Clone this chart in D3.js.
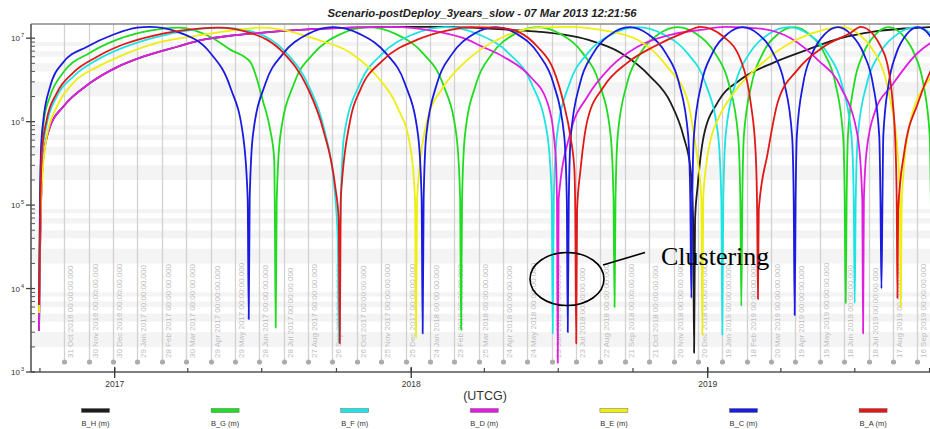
<!DOCTYPE html>
<html><head><meta charset="utf-8">
<script src="https://cdn.jsdelivr.net/npm/d3@7"></script>
<style>
body{margin:0;background:#fff;}
svg{display:block;font-family:"Liberation Sans",Arial,sans-serif;}
</style></head><body>
<svg id="chart" width="930" height="429"></svg>
<script>
// ---------------- data ----------------
const title = "Scenario-postDeploy_3years_slow - 07 Mar 2013 12:21:56";
const axisTitle = "(UTCG)";
const baseDate = "2016-09-20T00:00:00Z";          // day 0 of the series below
const xDomain = ["2016-09-20T00:00:00Z", "2019-10-01T14:00:00Z"];
const yDomain = [1e3, 1.48e7];
const yExponents = [3, 4, 5, 6, 7];
const yearTicks = ["2017-01-01", "2018-01-01", "2019-01-01"];
const yearLabels = ["2017", "2018", "2019"];
const gridStart = "2016-10-31T00:00:00Z";
const gridStepDays = 30;
const gridCount = 36;
const seriesNames = ["B_H (m)", "B_G (m)", "B_F (m)", "B_D (m)", "B_E (m)", "B_C (m)", "B_A (m)"];
const seriesColors = ["#1c1c1c", "#1fdc1f", "#1ee3e3", "#e01ee0", "#eeee10", "#1a1ae0", "#e01818"];

// [day since baseDate, range in metres]
const B_D = [
[9.9,3.1e3],[11.1,2.7e4],[14.8,3.5e5],[23.4,8.7e5],[39.4,1.5e6],[72.7,2.9e6],[106.0,4.5e6],[138.0,6.0e6],[179.9,7.9e6],[211.9,9.6e6],[245.2,1.07e7],[282.1,1.16e7],[331.4,1.26e7],[393.0,1.34e7],[442.3,1.37e7],
[500.2,1.2e7],[537.2,9.6e6],[553.2,8.1e6],[581.5,6.0e6],[614.8,3.45e6],[635.7,1.7e6],[645.6,4.2e5],[647.4,1.2e5],[648.4,1.28e3],[649.5,1.2e5],
[664.0,7.4e5],[685.0,2.0e6],[713.3,4.5e6],[746.6,7.9e6],[787.2,1.1e7],[824.2,1.26e7],[855.0,1.37e7],
[898.1,1.3e7],[935.1,1.0e7],[968.4,5.5e6],[996.7,2.6e6],[1017.6,6.6e5],[1023.2,1.2e5],[1024.2,2.9e3],[1025.2,1.2e5],
[1028.7,4.6e5],[1039.8,1.4e6],[1058.3,2.6e6],[1091.6,6.7e6],[1107.6,8.8e6],[1126.0,1.1e7]
];
const B_H = [
[9.9,3.1e3],[11.1,2.7e4],[14.8,3.5e5],[23.4,8.7e5],[39.4,1.5e6],[72.7,2.9e6],[106.0,4.5e6],[138.0,6.0e6],[179.9,7.9e6],[211.9,9.6e6],[245.2,1.07e7],[282.1,1.16e7],[331.4,1.26e7],[393.0,1.34e7],[442.3,1.37e7],
[503.9,1.37e7],[540.8,1.34e7],[590.1,1.26e7],[623.4,1.2e7],[685.0,9.6e6],[725.6,6.7e6],[762.6,3.45e6],[787.2,1.7e6],[803.3,6.6e5],[811.9,2.65e5],[815.0,6.7e4],[816.2,1.7e3],[817.4,6.7e4],
[820.5,1.66e5],[827.9,6.6e5],[845.2,1.7e6],[873.5,3.2e6],[914.1,5.1e6],[956.0,7.3e6],[996.7,1.0e7],[1037.3,1.2e7],[1095.2,1.34e7],[1113.7,1.37e7]
];
const B_G = [
[9.9,6.4e3],[11.1,1.0e5],[12.3,3.5e5],[16.0,1.05e6],[23.4,2.0e6],[39.4,3.85e6],[72.7,6.7e6],[106.0,9.6e6],[146.6,1.23e7],[181.1,1.34e7],
[220.5,1.04e7],[245.2,7.3e6],[269.8,5.2e6],[286.0,1.7e6],[294.4,8.0e5],[299.4,3.5e5],[300.0,1.2e5],[301.2,3.4e3],[302.5,1.2e5],
[306.9,6.8e5],[324.0,2.9e6],[346.8,6.4e6],[381.1,1.12e7],[415.2,1.36e7],
[449.4,1.12e7],[483.7,6.4e6],[506.6,2.9e6],[523.7,6.8e5],[528.2,1.2e5],[529.4,3.2e3],[530.6,1.2e5],
[534.1,6.8e5],[548.2,2.9e6],[567.0,6.4e6],[595.2,1.12e7],[623.4,1.36e7],
[651.9,1.12e7],[680.3,6.4e6],[699.3,2.9e6],[713.5,6.8e5],[717.0,1.2e5],[718.3,6.0e3],[719.5,1.2e5],
[722.2,6.8e5],[733.8,2.9e6],[749.3,6.4e6],[772.6,1.12e7],[795.9,1.36e7],
[819.4,1.12e7],[842.9,6.4e6],[858.7,2.9e6],[870.4,6.8e5],[873.1,1.2e5],[874.3,6.2e3],[875.6,1.2e5],
[877.5,6.8e5],[887.3,2.9e6],[900.1,6.4e6],[919.4,1.12e7],[938.8,1.36e7],
[958.0,1.12e7],[977.2,6.4e6],[990.0,2.9e6],[999.6,6.8e5],[1001.6,1.2e5],[1002.8,6.7e3],[1004.0,1.2e5],
[1005.6,6.8e5],[1013.4,2.9e6],[1024.0,6.4e6],[1039.9,1.12e7],[1055.8,1.36e7],
[1071.7,1.12e7],[1087.6,6.4e6],[1098.2,2.9e6],[1106.2,6.8e5],[1107.6,1.2e5],[1108.8,6.0e3]
];
const B_F = [
[9.9,6.4e3],[13.2,3.5e5],[19.3,9.2e5],[31.7,2.0e6],[51.7,3.45e6],[81.3,5.5e6],[113.3,7.7e6],[155.2,1.04e7],[192.2,1.23e7],[232.8,1.34e7],
[272.3,1.2e7],[314.2,6.7e6],[342.5,2.6e6],[361.0,8.0e5],[373.3,1.66e5],[377.6,3.8e4],[378.8,2.2e3],[380.1,3.8e4],
[385.4,6.8e5],[405.2,2.9e6],[431.6,6.4e6],[471.0,1.12e7],[510.5,1.36e7],
[550.1,1.12e7],[589.5,6.4e6],[615.9,2.9e6],[635.7,6.8e5],[641.0,1.2e5],[642.2,2.9e3],[643.5,1.2e5],
[647.4,6.8e5],[663.1,2.9e6],[684.0,6.4e6],[715.3,1.12e7],[746.6,1.36e7],
[777.9,1.12e7],[809.2,6.4e6],[830.1,2.9e6],[845.8,6.8e5],[849.7,1.2e5],[850.9,2.8e3],[852.2,1.2e5],
[855.0,6.8e5],[867.2,2.9e6],[883.6,6.4e6],[908.0,1.12e7],[932.5,1.36e7],
[956.9,1.12e7],[981.4,6.4e6],[997.7,2.9e6],[1009.9,6.8e5],[1012.7,1.2e5],[1013.9,6.7e3],[1015.2,1.2e5],
[1017.8,6.8e5],[1029.0,2.9e6],[1044.0,6.4e6],[1066.5,1.12e7],[1089.1,1.36e7],[1109.4,1.12e7]
];
const B_E = [
[9.9,5.1e3],[11.1,3.8e4],[13.2,1.66e5],[19.3,6.6e5],[31.7,1.5e6],[51.7,2.9e6],[81.3,4.5e6],[113.3,6.3e6],[155.2,8.8e6],[195.9,1.04e7],[236.5,1.2e7],[284.6,1.34e7],
[352.4,9.6e6],[393.0,6.7e6],[426.3,3.45e6],[450.9,1.5e6],[466.9,5.0e5],[472.7,1.2e5],[473.9,2.6e3],[475.2,1.2e5],
[487.9,1.05e6],[507.6,2.6e6],[537.2,5.5e6],[553.2,7.3e6],[581.5,1.04e7],[623.4,1.34e7],[664.0,1.37e7],
[701.0,1.26e7],[746.6,9.6e6],[783.6,4.5e6],[808.2,1.8e6],[815.6,7.4e5],[820.5,3.5e5],[825.1,1.2e5],[826.3,2.8e3],[827.5,1.2e5],
[830.4,2.65e5],[836.6,6.1e5],[845.2,1.05e6],[864.9,2.2e6],[894.4,4.5e6],[935.1,8.8e6],[975.7,1.26e7],[996.7,1.37e7],
[1033.6,7.9e6],[1058.3,1.7e6],[1066.9,4.2e5],[1069.4,1.2e5],[1070.6,6.0e3],[1071.8,1.2e5],
[1082.9,1.05e6],[1107.6,3.45e6],[1126.0,6.3e6]
];
const B_C = [
[9.9,6.4e3],[11.1,1.2e5],[12.3,4.6e5],[15.2,1.05e6],[23.4,2.6e6],[39.4,5.1e6],[69.0,7.9e6],[101.0,1.1e7],[130.6,1.34e7],[146.6,1.37e7],
[183.6,1.16e7],[220.5,6.7e6],[245.2,2.6e6],[261.2,6.6e5],[266.7,1.2e5],[268.0,4.3e3],[269.2,1.2e5],
[273.1,6.8e5],[288.8,2.9e6],[309.6,6.4e6],[340.6,1.12e7],[372.1,1.36e7],
[405.1,1.12e7],[438.1,6.4e6],[460.0,2.9e6],[476.5,6.8e5],[480.8,1.2e5],[482.1,2.9e3],[483.3,1.2e5],
[486.5,6.8e5],[499.9,2.9e6],[517.9,6.4e6],[544.8,1.12e7],[571.6,1.36e7],
[598.4,1.12e7],[625.1,6.4e6],[642.9,2.9e6],[656.3,6.8e5],[659.5,1.2e5],[660.7,3.0e3],[662.0,1.2e5],
[664.5,6.8e5],[675.9,2.9e6],[691.2,6.4e6],[713.9,1.12e7],[736.7,1.36e7],
[759.5,1.12e7],[782.3,6.4e6],[797.6,2.9e6],[808.9,6.8e5],[811.5,1.2e5],[812.8,7.7e3],[814.0,1.2e5],
[816.0,6.8e5],[825.4,2.9e6],[838.0,6.4e6],[857.0,1.12e7],[876.0,1.36e7],
[895.2,1.12e7],[914.4,6.4e6],[927.2,2.9e6],[936.8,6.8e5],[938.8,1.2e5],[940.0,4.8e3],[941.2,1.2e5],
[942.7,6.8e5],[950.6,2.9e6],[961.2,6.4e6],[977.1,1.12e7],[993.0,1.36e7],
[1009.1,1.12e7],[1025.3,6.4e6],[1036.1,2.9e6],[1044.1,6.8e5],[1045.6,1.2e5],[1046.8,1.0e4],[1048.1,1.2e5],
[1049.1,6.8e5],[1055.8,2.9e6],[1064.7,6.4e6],[1078.1,1.12e7],[1091.6,1.36e7],[1105.0,1.12e7],[1118.4,6.4e6]
];
const B_A = [
[9.9,6.4e3],[11.1,5.1e4],[13.2,4.2e5],[19.3,1.05e6],[31.7,2.2e6],[51.7,3.85e6],[81.3,6.0e6],[113.3,8.4e6],[155.2,1.1e7],[192.2,1.26e7],[229.2,1.34e7],
[269.8,1.16e7],[310.5,6.7e6],[340.0,2.6e6],[359.7,8.0e5],[374.5,1.66e5],[378.8,6.7e4],[380.1,2.2e3],[381.3,1.2e5],
[393.0,1.05e6],[405.3,2.4e6],[433.7,5.5e6],[475.6,9.6e6],[516.2,1.26e7],[540.8,1.36e7],[577.8,1.33e7],
[602.4,1.16e7],[623.4,7.9e6],[643.1,4.2e6],[655.4,1.7e6],[664.0,6.6e5],[668.9,2.65e5],[669.9,8.8e4],[671.1,2.2e3],[672.2,8.8e4],
[676.4,2.65e5],[685.0,1.05e6],[704.7,2.6e6],[734.3,5.1e6],[766.3,7.9e6],[803.3,1.16e7],[824.2,1.37e7],
[852.5,1.04e7],[873.5,5.5e6],[885.8,1.7e6],[892.0,4.2e5],[893.8,8.8e4],[894.8,7.5e3],[895.8,8.8e4],
[906.8,4.2e5],[919.1,1.7e6],[943.7,4.2e6],[975.7,7.9e6],[1009.0,1.16e7],[1021.3,1.37e7],
[1049.7,6.7e6],[1060.7,1.7e6],[1064.4,4.2e5],[1065.7,8.8e4],[1066.5,7.7e3],[1067.4,8.8e4],
[1074.7,4.2e5],[1092.0,1.7e6],[1108.0,4.2e6],[1126.5,8.4e6]
];
const seriesData = [B_H, B_G, B_F, B_D, B_E, B_C, B_A];

// ---------------- chart ----------------
const svg = d3.select("#chart");
const W = 930, H = 429;
const plot = {left: 31, right: 930, top: 24, bottom: 372};
const base = new Date(baseDate);
const toDate = d => new Date(base.getTime() + d * 864e5);

const x = d3.scaleUtc().domain(xDomain.map(s => new Date(s))).range([plot.left, plot.right]);
const y = d3.scaleLog().domain(yDomain).range([plot.bottom, plot.top]);

svg.append("rect").attr("width", W).attr("height", H).attr("fill", "#fff");

// faint horizontal bands between alternate log minor ticks
const minorVals = [];
yExponents.forEach(e => { for (let k = 1; k <= 9; k++) { const v = k * Math.pow(10, e); if (v <= yDomain[1] && v >= yDomain[0]) minorVals.push(v); } });
const bands = [];
yExponents.forEach(e => [2, 4, 6, 8].forEach(k => {
  const lo = k * Math.pow(10, e), hi = (k + 1) * Math.pow(10, e);
  if (hi <= yDomain[1]) bands.push([lo, hi]);
}));
svg.append("g").selectAll("rect").data(bands).join("rect")
  .attr("x", plot.left).attr("width", plot.right - plot.left)
  .attr("y", d => y(d[1])).attr("height", d => y(d[0]) - y(d[1])).attr("fill", "#f4f4f4");

// clip
svg.append("defs").append("clipPath").attr("id", "clip")
  .append("rect").attr("x", plot.left).attr("y", plot.top)
  .attr("width", plot.right - plot.left).attr("height", plot.bottom - plot.top);

// vertical date grid lines with labels
const gridDates = d3.range(gridCount).map(i => d3.utcDay.offset(new Date(gridStart), i * gridStepDays));
const fmt = d3.utcFormat("%d %b %Y %H:%M:%S.000");
const grid = svg.append("g");
grid.selectAll("line").data(gridDates).join("line")
  .attr("x1", d => Math.round(x(d)) + 0.5).attr("x2", d => Math.round(x(d)) + 0.5)
  .attr("y1", plot.top).attr("y2", 362)
  .attr("stroke", "#d2d2d2").attr("stroke-width", 1.3);
grid.selectAll("text").data(gridDates).join("text")
  .attr("transform", d => `translate(${Math.round(x(d)) + 8.5},358) rotate(-90)`)
  .attr("font-size", 8).attr("fill", "#bdbdbd").text(d => fmt(d));
grid.selectAll("circle").data(gridDates).join("circle")
  .attr("cx", d => Math.round(x(d)) + 0.5).attr("cy", 362).attr("r", 2.6).attr("fill", "#acacac");

// series
const line = d3.line()
  .x(d => x(toDate(d[0])))
  .y(d => y(d[1]))
  .curve(d3.curveMonotoneX);
const lines = svg.append("g").attr("clip-path", "url(#clip)");
seriesData.forEach((s, i) => {
  lines.append("path").datum(s).attr("d", line)
    .attr("fill", "none").attr("stroke", seriesColors[i]).attr("stroke-width", 1.8)
    .attr("stroke-linejoin", "round");
});

// frame / axes
svg.append("line").attr("x1", plot.left).attr("x2", plot.right).attr("y1", plot.top).attr("y2", plot.top)
  .attr("stroke", "#8a8a8a").attr("stroke-width", 1.5);
svg.append("line").attr("x1", plot.left).attr("x2", plot.left).attr("y1", plot.top).attr("y2", plot.bottom)
  .attr("stroke", "#555").attr("stroke-width", 1.6);
svg.append("line").attr("x1", plot.left).attr("x2", plot.right).attr("y1", plot.bottom).attr("y2", plot.bottom)
  .attr("stroke", "#555").attr("stroke-width", 1.6);

// y ticks
const yAx = svg.append("g");
yAx.selectAll("line.minor").data(minorVals.filter(v => !yExponents.some(e => Math.abs(v - Math.pow(10, e)) < 1e-6 * v)))
  .join("line").attr("class", "minor")
  .attr("x1", plot.left).attr("x2", plot.left + 4).attr("y1", d => y(d)).attr("y2", d => y(d))
  .attr("stroke", "#555").attr("stroke-width", 1);
yAx.selectAll("line.major").data(yExponents).join("line").attr("class", "major")
  .attr("x1", plot.left - 5).attr("x2", plot.left + 4).attr("y1", e => y(Math.pow(10, e))).attr("y2", e => y(Math.pow(10, e)))
  .attr("stroke", "#444").attr("stroke-width", 1.3);
const yl = yAx.selectAll("text").data(yExponents).join("text")
  .attr("x", 11).attr("y", e => y(Math.pow(10, e)) + 3)
  .attr("font-size", 8).attr("fill", "#333");
yl.append("tspan").text("10");
yl.append("tspan").attr("dy", -4).attr("font-size", 5.5).attr("dx", 1).text(e => e);

// x ticks
const xAx = svg.append("g");
const quarters = d3.utcMonth.every(3).range(new Date(xDomain[0]), new Date(xDomain[1]));
xAx.selectAll("line.q").data(quarters).join("line").attr("class", "q")
  .attr("x1", d => x(d)).attr("x2", d => x(d)).attr("y1", plot.bottom - 4).attr("y2", plot.bottom)
  .attr("stroke", "#444").attr("stroke-width", 1.2);
xAx.selectAll("line.y").data(yearTicks).join("line").attr("class", "y")
  .attr("x1", d => x(new Date(d))).attr("x2", d => x(new Date(d)))
  .attr("y1", plot.bottom - 5).attr("y2", plot.bottom + 6)
  .attr("stroke", "#333").attr("stroke-width", 1.3);
xAx.selectAll("text").data(yearTicks).join("text")
  .attr("x", d => x(new Date(d))).attr("y", 387).attr("text-anchor", "middle")
  .attr("font-size", 8.5).attr("fill", "#333").text((d, i) => yearLabels[i]);

// titles
svg.append("text").attr("x", 482).attr("y", 17).attr("text-anchor", "middle")
  .attr("font-size", 11.3).attr("font-weight", "bold").attr("font-style", "italic").attr("fill", "#222").text(title);
svg.append("text").attr("x", 485).attr("y", 400).attr("text-anchor", "middle")
  .attr("font-size", 12.5).attr("fill", "#333").text(axisTitle);

// legend
const leg = svg.append("g").selectAll("g").data(seriesNames).join("g")
  .attr("transform", (d, i) => `translate(${95.5 + i * 129.6},0)`);
leg.append("rect").attr("x", -14).attr("y", 408.5).attr("width", 28).attr("height", 4)
  .attr("fill", (d, i) => seriesColors[i]).attr("stroke", "#555").attr("stroke-width", 0.4);
leg.append("text").attr("x", 0).attr("y", 425.5).attr("text-anchor", "middle")
  .attr("font-size", 7.5).attr("fill", "#333").text(d => d);

// annotation
const ann = svg.append("g");
ann.append("ellipse").attr("cx", 567).attr("cy", 279).attr("rx", 37).attr("ry", 26.5)
  .attr("fill", "none").attr("stroke", "#000").attr("stroke-width", 1.6);
ann.append("line").attr("x1", 603).attr("y1", 265).attr("x2", 645).attr("y2", 252.5)
  .attr("stroke", "#000").attr("stroke-width", 1.6);
ann.append("text").attr("x", 661).attr("y", 265).attr("font-family", "'Liberation Serif','Times New Roman',serif")
  .attr("font-size", 26).attr("fill", "#000").text("Clustering");
</script>
</body></html>
